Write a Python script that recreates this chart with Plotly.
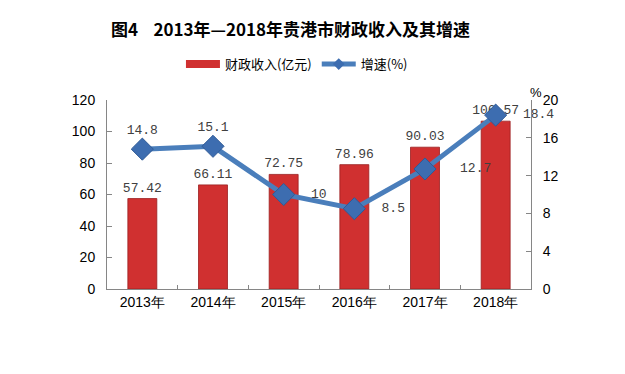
import plotly.graph_objects as go

years = ["2013年", "2014年", "2015年", "2016年", "2017年", "2018年"]
revenue = [57.42, 66.11, 72.75, 78.96, 90.03, 106.57]
growth = [14.8, 15.1, 10, 8.5, 12.7, 18.4]
growth_pos = ["top center", "top center", "middle right", "middle right", "middle right", "middle right"]

label_font = dict(family="Liberation Mono, DejaVu Sans Mono, monospace", size=13, color="#404040")
bar_color = "#D03030"
line_color = "#4A7EBB"

fig = go.Figure()
fig.add_trace(go.Bar(
    x=years, y=revenue, name="财政收入(亿元)", showlegend=False,
    marker=dict(color=bar_color, line=dict(color="#9A1E20", width=0.8)),
    width=0.41,
    text=[f"{v:g}" for v in revenue], textposition="outside", constraintext="none",
    textfont=label_font,
    cliponaxis=False,
))
fig.add_trace(go.Scatter(
    x=years, y=growth, name="增速(%)", yaxis="y2", showlegend=False,
    mode="lines+markers+text",
    line=dict(color=line_color, width=5),
    marker=dict(symbol="diamond", size=17, color="#3D6DB0", line=dict(color="#2F5A96", width=1)),
    text=["14.8", "15.1", "  10", "  8.5", "   12.7", "  18.4"], textposition=growth_pos,
    textfont=label_font,
    cliponaxis=False,
))
# legend proxies
fig.add_trace(go.Scatter(x=[None], y=[None], name="财政收入(亿元)", mode="lines",
                         line=dict(color=bar_color, width=8)))
fig.add_trace(go.Scatter(x=[None], y=[None], name="增速(%)", mode="lines+markers",
                         line=dict(color=line_color, width=5),
                         marker=dict(symbol="diamond", size=9, color="#3D6DB0")))

axis_font = dict(family="Liberation Sans, Arial, sans-serif", size=14, color="#000000")
fig.update_layout(
    width=625, height=374,
    margin=dict(l=99, r=102, t=92, b=93, autoexpand=False),
    plot_bgcolor="white", paper_bgcolor="white",
    title=dict(text="<b>图4    2013年—2018年贵港市财政收入及其增速</b>",
               x=0.452, xanchor="center", y=0.94, yanchor="middle",
               font=dict(family="Noto Sans CJK SC", size=17, color="#000000")),
    showlegend=True,
    legend=dict(orientation="h", x=0.448, xanchor="center", y=1.19, yanchor="middle",
                font=dict(family="Noto Sans CJK SC", size=13, color="#000000"),
                traceorder="normal", itemwidth=34),
    xaxis=dict(showline=True, linecolor="#868686", ticks="inside", tickson="boundaries",
               ticklen=4, tickcolor="#868686", tickfont=axis_font, showgrid=False,
               automargin=False),
    yaxis=dict(range=[0, 120], dtick=20, showline=True, linecolor="#868686",
               ticks="inside", ticklen=5, tickcolor="#868686", tickfont=axis_font,
               showgrid=False, zeroline=False, automargin=False, ticklabelstandoff=8),
    yaxis2=dict(range=[0, 20], dtick=4, overlaying="y", side="right", showline=True,
                linecolor="#868686", ticks="inside", ticklen=5, tickcolor="#868686",
                tickfont=axis_font, showgrid=False, zeroline=False, automargin=False,
                ticklabelstandoff=8),
    bargap=0.59,
)
fig.add_annotation(text="%", xref="paper", yref="paper", x=1.03, y=1.09,
                   showarrow=False, font=dict(family="Liberation Sans, Arial", size=13, color="#000000"))
fig.write_html("out.html")
